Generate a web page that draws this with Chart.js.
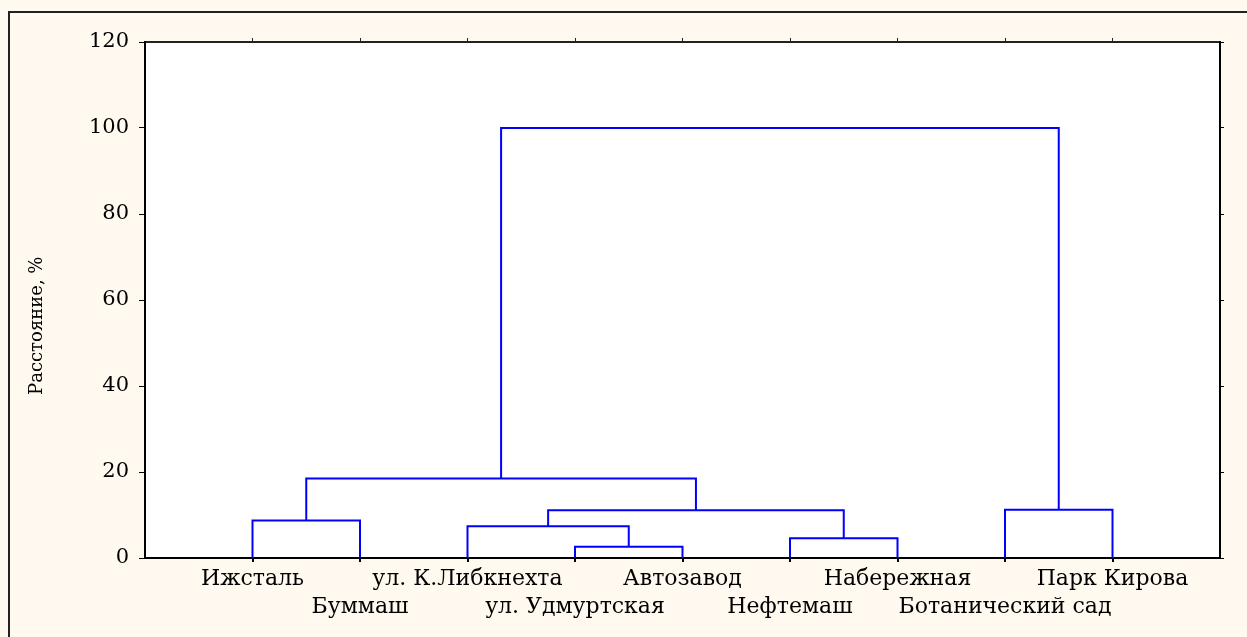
<!DOCTYPE html>
<html>
<head>
<meta charset="utf-8">
<script src="https://cdn.jsdelivr.net/npm/chart.js@4"></script>
<style>
    html, body { margin: 0; padding: 0; background: #fff9ef; overflow: hidden; }
    #frame { position: absolute; left: 8px; top: 11px; width: 1260px; height: 640px; border: 2px solid #222; box-sizing: border-box; }
    #wrap { position: absolute; left: 0; top: 0; width: 1247px; height: 637px; }
</style>
</head>
<body>
<div id="frame"></div>
<div id="wrap"><canvas id="chart"></canvas></div>
<script>
// leaves in dendrogram order (left to right)
const leafNames = ['Ижсталь', 'Буммаш', 'ул. К.Либкнехта', 'ул. Удмуртская', 'Автозавод',
                   'Нефтемаш', 'Набережная', 'Ботанический сад', 'Парк Кирова'];

// merges: children are leaf names or 'M<n>' (earlier merge)
const mergeLeft    = ['Ижсталь', 'ул. Удмуртская', 'ул. К.Либкнехта', 'Нефтемаш', 'M2', 'M0', 'Ботанический сад', 'M5'];
const mergeRight   = ['Буммаш', 'Автозавод', 'M1', 'Набережная', 'M3', 'M4', 'Парк Кирова', 'M6'];
const mergeHeights = [8.7, 2.6, 7.4, 4.6, 11.1, 18.5, 11.2, 100];

const yTicks = [0, 20, 40, 60, 80, 100, 120];

const FONT = "'DejaVu Serif', 'Liberation Serif', serif";
const LINE_COLOR = '#0000ff';

// position of a node: leaf -> (index+1, 0), merge -> (center, height)
const mergeCenters = [];
function nodePos(ref) {
    if (ref.startsWith('M')) {
        const i = parseInt(ref.slice(1), 10);
        return { x: mergeCenters[i], y: mergeHeights[i] };
    }
    return { x: leafNames.indexOf(ref) + 1, y: 0 };
}

const datasets = [];
mergeHeights.forEach((h, i) => {
    const a = nodePos(mergeLeft[i]);
    const b = nodePos(mergeRight[i]);
    mergeCenters[i] = (a.x + b.x) / 2;
    datasets.push({
        data: [{ x: a.x, y: a.y }, { x: a.x, y: h }, { x: b.x, y: h }, { x: b.x, y: b.y }],
        showLine: true,
        borderColor: LINE_COLOR,
        borderWidth: 2,
        pointRadius: 0,
        tension: 0
    });
});

// white plot area on the cream page
const plotBg = {
    id: 'plotBg',
    beforeDraw(chart) {
        const { ctx, chartArea: a } = chart;
        ctx.save();
        ctx.fillStyle = '#ffffff';
        ctx.fillRect(a.left, a.top, a.right - a.left, a.bottom - a.top);
        ctx.restore();
    }
};

const leafTicks = leafNames.map((_, i) => ({ value: i + 1 }));

new Chart(document.getElementById('chart'), {
    type: 'scatter',
    data: { datasets: datasets },
    plugins: [plotBg],
    options: {
        responsive: true,
        maintainAspectRatio: false,
        animation: false,
        layout: { padding: { left: 0, top: 36, right: 21, bottom: 0 } },
        plugins: { legend: { display: false }, tooltip: { enabled: false } },
        scales: {
            x: {
                type: 'linear',
                min: 0,
                max: 10,
                afterBuildTicks: s => { s.ticks = leafTicks.map(t => ({ ...t })); },
                afterFit: s => { s.height = 79; },
                border: { color: '#000', width: 2 },
                grid: { drawOnChartArea: false, color: '#000', tickLength: 4, lineWidth: 2 },
                ticks: {
                    autoSkip: false,
                    maxRotation: 0,
                    padding: 3,
                    color: '#000',
                    font: { family: FONT, size: 22, lineHeight: 1.27 },
                    callback: v => {
                        const name = leafNames[v - 1];
                        if (name === undefined) return '';
                        return (v % 2 === 1) ? [name, ''] : ['', name];
                    }
                }
            },
            x2: {
                type: 'linear',
                position: 'top',
                min: 0,
                max: 10,
                afterBuildTicks: s => { s.ticks = leafTicks.map(t => ({ ...t })); },
                afterFit: s => { s.height = 6; },
                border: { color: '#222', width: 2 },
                grid: { drawOnChartArea: false, color: '#222', tickLength: 4 },
                ticks: { display: false }
            },
            y: {
                min: 0,
                max: 120,
                afterBuildTicks: s => { s.ticks = yTicks.map(v => ({ value: v })); },
                afterFit: s => { s.width = 145; },
                border: { color: '#000', width: 2 },
                grid: { drawOnChartArea: false, color: '#000', tickLength: 6 },
                title: {
                    display: true,
                    // trailing spaces push the centred title a little lower, as in the picture
                    text: 'Расстояние, %         ',
                    color: '#000',
                    font: { family: FONT, size: 18 },
                    padding: { top: 27, bottom: 0 }
                },
                ticks: {
                    padding: 10,
                    color: '#000',
                    font: { family: FONT, size: 21 }
                }
            },
            y2: {
                position: 'right',
                min: 0,
                max: 120,
                afterBuildTicks: s => { s.ticks = yTicks.map(v => ({ value: v })); },
                afterFit: s => { s.width = 6; },
                border: { color: '#000', width: 2 },
                grid: { drawOnChartArea: false, color: '#000', tickLength: 4 },
                ticks: { display: false }
            }
        }
    }
});
</script>
</body>
</html>
